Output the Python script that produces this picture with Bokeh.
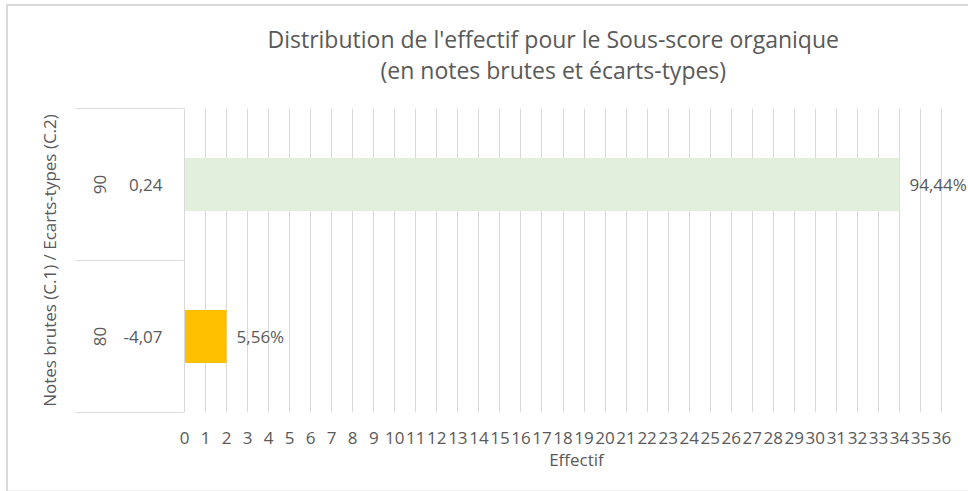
from bokeh.plotting import figure
from bokeh.models import (Range1d, FixedTicker, LinearAxis, Title,
                          LabelSet, ColumnDataSource)
from bokeh.core.properties import value
from bokeh.embed import file_html
from bokeh.resources import INLINE

# ---- data ----
notes = ["80", "90"]                 # Notes brutes (C.1)
ecarts = ["-4,07", "0,24"]           # Ecarts-types (C.2)
effectif = [2, 34]
pourcent = ["5,56%", "94,44%"]
colors = ["#FFC000", "#E2EFDA"]
x_ticks = list(range(0, 37))
title_lines = ["Distribution de l'effectif pour le Sous-score organique",
               "(en notes brutes et écarts-types)"]

pos = [i + 0.5 for i in range(len(notes))]
bounds = list(range(len(notes) + 1))

TXT = "#595959"
GRID = "#D9D9D9"
FONT = "Open Sans"

W, H = 968, 491
FL, FT, FB = 184, 108, 412
AXIS_RIGHT = 941                      # pixel where the last tick (36) sits
px_per_unit = (AXIS_RIGHT - FL) / x_ticks[-1]
x_end = x_ticks[-1] + (W - AXIS_RIGHT) / px_per_unit
TITLE_OFFSETS = [83, 196]             # left offsets of the two title lines (px)
TITLE_STANDOFFS = [-6, 0]
TITLE_GAP = 23                        # space between plot area and title block

# separator lines of the category axis: reach into the inner label column and out
SEP_IN, SEP_OUT = 63, 45

source = ColumnDataSource(dict(pos=pos, effectif=effectif, pourcent=pourcent,
                               colors=colors))

p = figure(width=W, height=H, x_range=Range1d(0, x_end),
           y_range=Range1d(bounds[0], bounds[-1]),
           output_backend="svg", toolbar_location=None, title=None,
           min_border_left=FL, min_border_right=0,
           min_border_top=FT, min_border_bottom=H - FB)
p.outline_line_color = None
p.background_fill_color = "white"
p.border_fill_alpha = 0
# thin light-grey chart border (left and top edges, as in the cropped reference)
p.styles = {"box-shadow": "inset 6px 4px 0 0 #ffffff, inset 8px 6px 0 0 #D9D9D9, "
                          "inset 0 -1px 0 0 #EDEDED",
            "background-color": "white"}

# x axis (bottom)
xa = p.below[0]
xa.ticker = FixedTicker(ticks=x_ticks)
xa.axis_line_color = None
xa.major_tick_line_color = None
xa.minor_tick_line_color = None
xa.major_label_text_font = FONT
xa.major_label_text_font_size = "17px"
xa.major_label_text_color = TXT
xa.major_label_standoff = 13
xa.axis_label = "Effectif"
xa.axis_label_text_font = FONT
xa.axis_label_text_font_size = "17px"
xa.axis_label_text_font_style = "normal"
xa.axis_label_text_color = TXT
xa.axis_label_standoff = 1

# invisible spacer between the plot area and the title lines
spacer = LinearAxis(ticker=FixedTicker(ticks=[x_ticks[0]]),
                    major_label_overrides={x_ticks[0]: ""},
                    major_label_text_font_size="1px", major_label_standoff=5,
                    axis_line_color=None,
                    major_tick_line_color=None, minor_tick_line_color=None,
                    major_tick_out=TITLE_GAP, minor_tick_out=0,
                    major_tick_in=0, minor_tick_in=0)
p.add_layout(spacer, "above")

# title lines (second line nearest the plot)
for text, off, so in reversed(list(zip(title_lines, TITLE_OFFSETS, TITLE_STANDOFFS))):
    p.add_layout(Title(text=text, align="left", offset=off,
                       text_font=FONT, text_font_size="23px", text_color=TXT,
                       text_font_style="normal", standoff=so), "above")

p.xgrid.ticker = FixedTicker(ticks=x_ticks)
p.xgrid.grid_line_color = GRID
p.xgrid.grid_line_width = 1
p.ygrid.visible = False

# inner y axis (écarts-types)
ya = p.left[0]
ya.ticker = FixedTicker(ticks=pos)
ya.major_label_overrides = {v: s for v, s in zip(pos, ecarts)}
ya.axis_line_color = GRID
ya.major_tick_line_color = None
ya.minor_tick_line_color = None
ya.major_label_text_font = FONT
ya.major_label_text_font_size = "17px"
ya.major_label_text_color = TXT
ya.major_label_standoff = 16

# outer y axis (notes brutes); its minor ticks draw the category separators
ya2 = LinearAxis(ticker=FixedTicker(ticks=pos, minor_ticks=bounds),
                 major_label_overrides={v: s for v, s in zip(pos, notes)},
                 major_label_orientation="vertical",
                 axis_line_color=None, major_tick_line_color=None,
                 minor_tick_line_color=GRID, minor_tick_line_width=1,
                 minor_tick_in=SEP_IN, minor_tick_out=SEP_OUT,
                 major_label_text_font=FONT, major_label_text_font_size="17px",
                 major_label_text_color=TXT, major_label_standoff=15 - SEP_OUT,
                 axis_label="Notes brutes (C.1) / Ecarts-types (C.2)",
                 axis_label_text_font=FONT, axis_label_text_font_size="17px",
                 axis_label_text_font_style="normal",
                 axis_label_text_color=TXT, axis_label_standoff=30)
p.add_layout(ya2, "left")

# bars
p.hbar(y="pos", left=0, right="effectif", height=0.35, fill_color="colors",
       line_color=None, source=source)

# value labels
p.add_layout(LabelSet(x="effectif", y="pos", text="pourcent", x_offset=10,
                      text_baseline="middle", text_font=value(FONT),
                      text_font_size=value("17px"), text_color=value(TXT),
                      source=source))

open("out.html", "w").write(file_html(p, INLINE))
